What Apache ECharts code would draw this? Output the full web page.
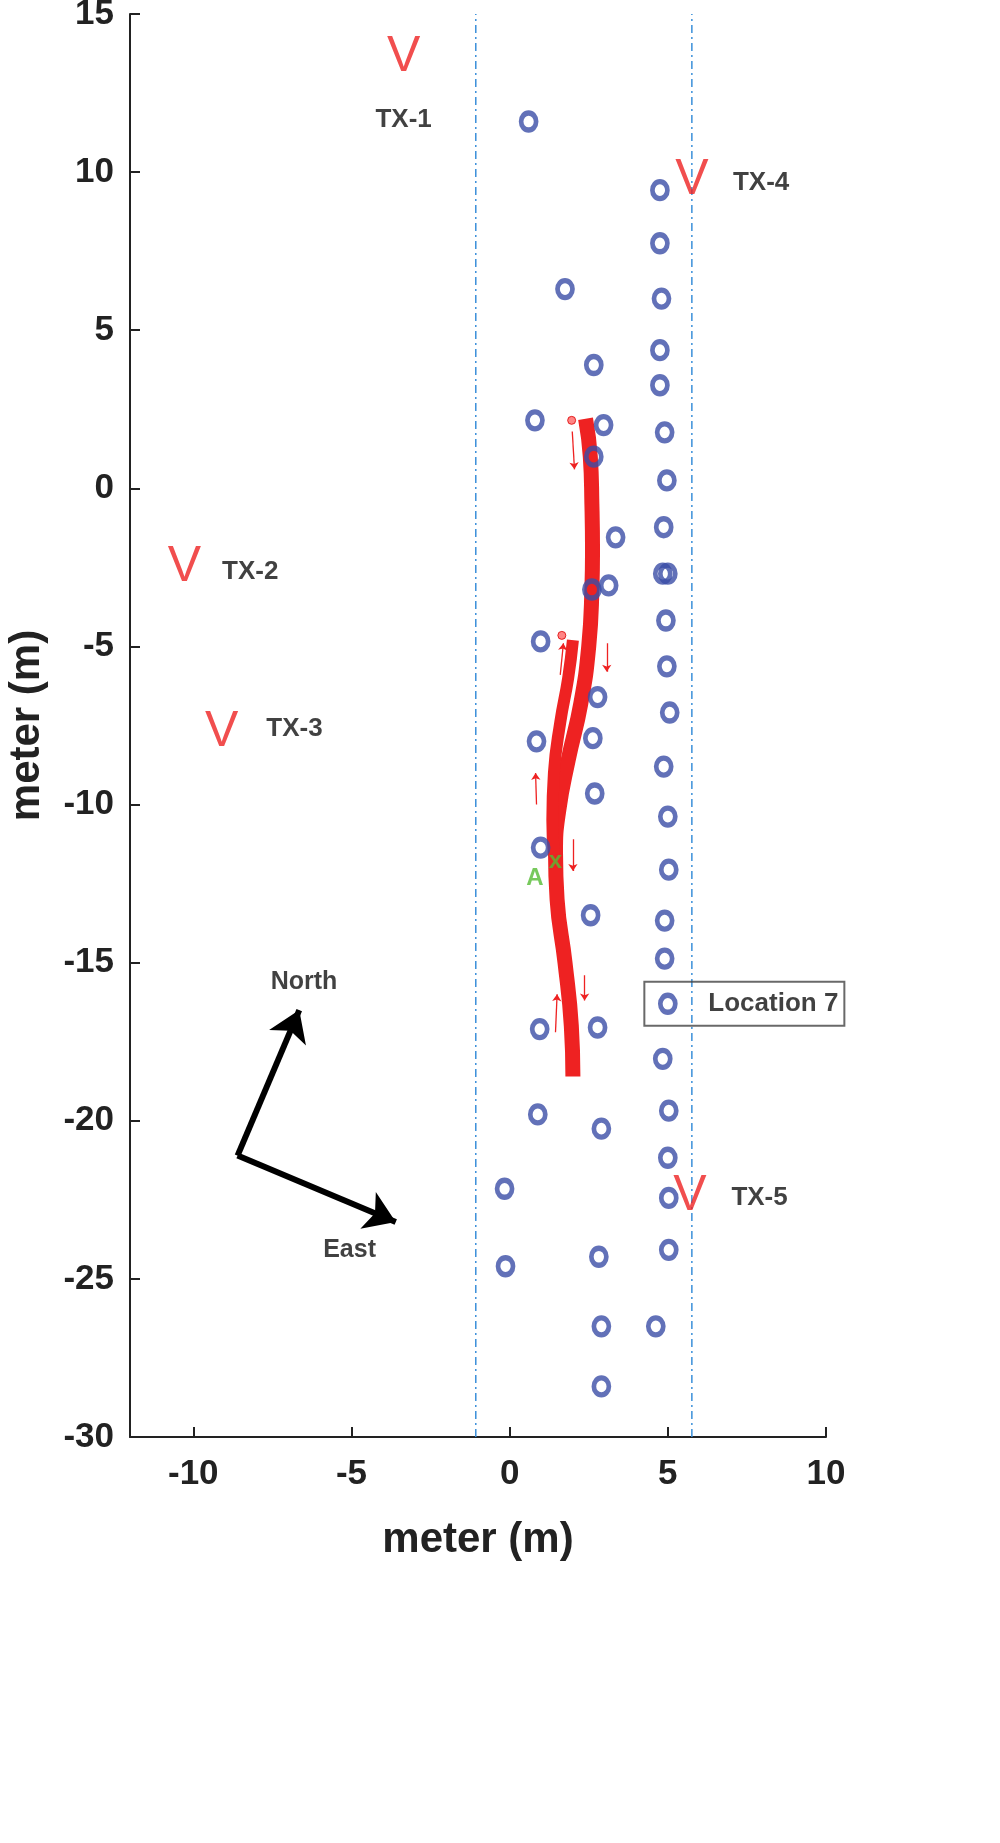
<!DOCTYPE html>
<html><head><meta charset="utf-8">
<script src="https://cdn.jsdelivr.net/npm/echarts@6/dist/echarts.min.js"></script>
<style>html,body{margin:0;padding:0;background:#fff}#c{width:1000px;height:1843px}</style>
</head><body><div id="c"></div>
<script>
const anchors = [[0.6,11.6],[1.75,6.3],[0.8,2.15],[2.66,3.9],[2.97,2.0],[2.66,1.0],[3.35,-1.55],[3.13,-3.07],[2.6,-3.2],[0.98,-4.84],[2.78,-6.6],[2.63,-7.9],[0.85,-8.0],[2.69,-9.65],[0.98,-11.36],[2.56,-13.5],[2.78,-17.05],[0.95,-17.1],[0.89,-19.8],[2.9,-20.25],[-0.16,-22.15],[-0.13,-24.6],[2.82,-24.3],[2.9,-26.5],[2.9,-28.4],[4.62,-26.5],
[4.75,9.43],[4.75,7.75],[4.8,6.0],[4.75,4.37],[4.75,3.26],[4.9,1.77],[4.97,0.25],[4.87,-1.23],[4.84,-2.7],[5.0,-2.7],[4.94,-4.18],[4.97,-5.63],[5.06,-7.09],[4.87,-8.8],[5.0,-10.38],[5.03,-12.06],[4.9,-13.67],[4.9,-14.87],[5.0,-16.3],[4.84,-18.04],[5.03,-19.68],[5.0,-21.17],[5.03,-22.44],[5.03,-24.08]];
const txNames = ['TX-1','TX-2','TX-3','TX-4','TX-5'];
const txPos = [[-3.35,13.64],[-10.28,-2.5],[-9.1,-7.72],[5.76,9.75],[5.7,-22.37]];
const txLabelPos = [[-3.35,11.65],[-8.2,-2.65],[-6.8,-7.6],[7.95,9.65],[7.9,-22.45]];
const pathMain = [[2.4,2.2],[2.55,1.0],[2.6,-0.5],[2.62,-2.0],[2.6,-3.2],[2.5,-5],[2.25,-6.8],[1.85,-8.6],[1.55,-10.2],[1.45,-11.5],[1.5,-13],[1.75,-15],[1.95,-17],[2.0,-18.6]];
const pathBranch = [[2.0,-4.8],[1.85,-6],[1.6,-7.4],[1.4,-9],[1.35,-10.5],[1.4,-11.6]];
const arrows = [[[1.98,1.8],[2.05,0.6]],[[1.6,-5.9],[1.7,-4.9]],[[3.07,-4.9],[3.07,-5.8]],[[0.85,-10],[0.82,-9]],[[2.0,-11.1],[2.0,-12.1]],[[2.37,-15.4],[2.37,-16.2]],[[1.45,-17.2],[1.5,-16.0]]];
const redDots = [[1.96,2.15],[1.65,-4.65]];
const dashX = [-1.07,5.76];
const compassOrigin = [-8.6,-21.1], northTip = [-6.65,-16.5], eastTip = [-3.6,-23.2];
const xTicks = [-10,-5,0,5,10];
const yTicks = [-30,-25,-20,-15,-10,-5,0,5,10,15];
const F = 'Liberation Sans';
const series = [];
dashX.forEach(x=>series.push({type:'line',data:[[x,-30],[x,15]],symbol:'none',silent:true,lineStyle:{color:'#3a8fd9',width:1.5,type:[8,4,2,4]}}));
series.push({type:'line',data:pathMain,smooth:true,symbol:'none',lineStyle:{color:'#ee2222',width:15},z:3});
series.push({type:'line',data:pathBranch,smooth:true,symbol:'none',lineStyle:{color:'#ee2222',width:12},z:3});
series.push({type:'lines',coordinateSystem:'cartesian2d',data:arrows.map(a=>({coords:a})),symbol:['none','arrow'],symbolSize:7,lineStyle:{color:'#ee2222',width:1.3,opacity:1},z:4});
series.push({type:'scatter',data:redDots,symbolSize:8,itemStyle:{color:'#f66',borderColor:'#d00',borderWidth:1},z:5});
series.push({type:'scatter',data:anchors,symbol:'circle',symbolSize:[15,17],itemStyle:{color:'rgba(255,255,255,0)',borderColor:'#3b4ea6',borderWidth:5},z:6});
series.push({type:'scatter',data:txPos,symbolSize:0,label:{show:true,position:'inside',formatter:'V',color:'#ee2222',fontSize:50,fontFamily:F},z:6});
series.push({type:'scatter',data:txLabelPos.map((p,i)=>({value:p,name:txNames[i]})),symbolSize:0,label:{show:true,position:'inside',formatter:'{b}',color:'#111',fontSize:26,fontWeight:'bold',fontFamily:F},z:6});
series.push({type:'scatter',data:[{value:[1.45,-11.8],label:{formatter:'x',fontSize:24}},{value:[0.8,-12.35],label:{formatter:'A',fontSize:24}}],symbolSize:0,label:{show:true,position:'inside',color:'#55bb33',fontWeight:'bold',fontFamily:F},z:7});
series.push({type:'lines',coordinateSystem:'cartesian2d',data:[northTip,eastTip].map(t=>({coords:[compassOrigin,t]})),symbol:['none','arrow'],symbolSize:30,lineStyle:{color:'#000',width:6,opacity:1},z:4});
series.push({type:'scatter',data:[{value:[-6.5,-15.6],name:'North'},{value:[-5.06,-24.1],name:'East'}],symbolSize:0,label:{show:true,position:'inside',formatter:'{b}',color:'#111',fontSize:25,fontWeight:'bold',fontFamily:F},z:6});
series.push({type:'scatter',clip:false,data:[{value:[4.1,-16.3],name:'Location 7'}],symbolSize:0,label:{show:true,position:'insideLeft',align:'left',formatter:'{b}',color:'#111',fontSize:26,fontWeight:'bold',fontFamily:F,backgroundColor:'rgba(255,255,255,0)',borderColor:'#444',borderWidth:1,padding:[9,6,9,64]},z:8});
const opt = {
  animation:false,
  grid:{left:130,right:174,top:14,bottom:406,containLabel:false,outerBoundsMode:'none'},
  xAxis:{type:'value',min:-12,max:10,name:'meter (m)',nameLocation:'middle',nameGap:82,nameTextStyle:{fontSize:42,fontWeight:'bold',color:'#222',fontFamily:F},
    axisLine:{onZero:false,lineStyle:{color:'#222',width:2}},axisTick:{inside:true,length:10,customValues:xTicks,lineStyle:{width:2}},splitLine:{show:false},
    axisLabel:{customValues:xTicks,fontSize:35,fontWeight:'bold',color:'#222',fontFamily:F,margin:20}},
  yAxis:{type:'value',min:-30,max:15,name:'meter (m)',nameLocation:'middle',nameGap:82,nameTextStyle:{fontSize:42,fontWeight:'bold',color:'#222',fontFamily:F},
    axisLine:{show:true,onZero:false,lineStyle:{color:'#222',width:2}},axisTick:{show:true,inside:true,length:10,customValues:yTicks,lineStyle:{width:2}},splitLine:{show:false},
    axisLabel:{customValues:yTicks,fontSize:35,fontWeight:'bold',color:'#222',fontFamily:F,margin:16}},
  series
};
echarts.init(document.getElementById('c')).setOption(opt);
</script></body></html>
